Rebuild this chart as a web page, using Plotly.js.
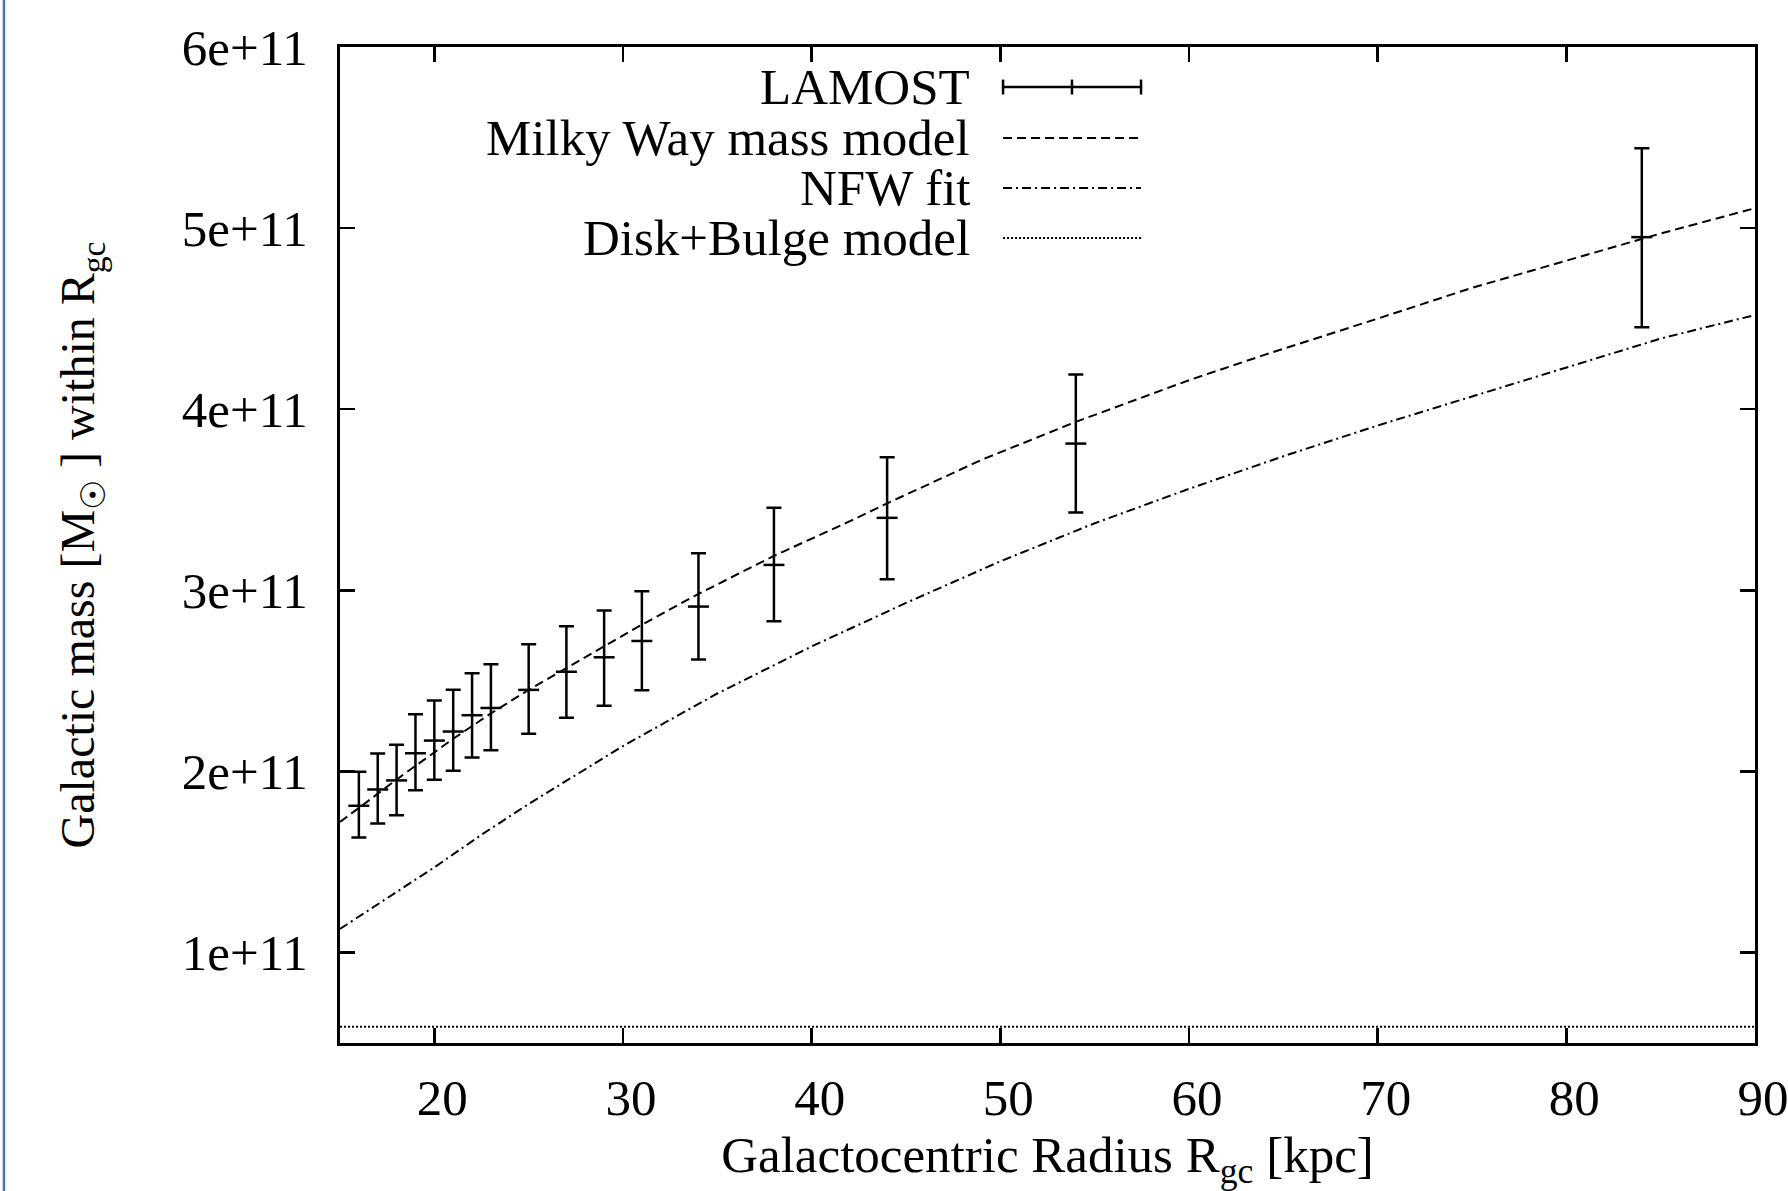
<!DOCTYPE html>
<html>
<head>
<meta charset="utf-8">
<script src="https://cdn.plot.ly/plotly-3.0.1.min.js"></script>
<style>html,body{margin:0;padding:0;background:#fff;}#chart{width:1788px;height:1191px;}</style>
</head>
<body>
<div id="chart"></div>
<script>
// LAMOST measurements
const radius = [16, 17, 18, 19, 20, 21, 22, 23, 25, 27, 29, 31, 34, 38, 44, 54, 84];
const massLamost = [1.81e11, 1.90e11, 1.95e11, 2.10e11, 2.17e11, 2.22e11, 2.31e11, 2.35e11, 2.45e11, 2.55e11, 2.63e11, 2.72e11, 2.91e11, 3.14e11, 3.40e11, 3.81e11, 4.95e11];
const errPlus = [0.188e11, 0.199e11, 0.197e11, 0.216e11, 0.221e11, 0.231e11, 0.232e11, 0.241e11, 0.252e11, 0.252e11, 0.258e11, 0.274e11, 0.295e11, 0.316e11, 0.335e11, 0.382e11, 0.491e11];
const errMinus = [0.175e11, 0.188e11, 0.193e11, 0.204e11, 0.217e11, 0.217e11, 0.234e11, 0.234e11, 0.242e11, 0.254e11, 0.267e11, 0.272e11, 0.292e11, 0.311e11, 0.339e11, 0.380e11, 0.498e11];

// Milky Way mass model (dashed)
const mwRadius = [15, 16, 17, 18, 19, 20, 21, 23, 25, 27, 29, 31, 34, 38, 42, 44, 49, 54, 60, 64, 70, 75, 80, 85, 90];
const mwMass = [1.72e11, 1.80e11, 1.875e11, 1.955e11, 2.03e11, 2.105e11, 2.18e11, 2.32e11, 2.45e11, 2.57e11, 2.69e11, 2.81e11, 2.98e11, 3.19e11, 3.38e11, 3.48e11, 3.72e11, 3.93e11, 4.16e11, 4.30e11, 4.50e11, 4.67e11, 4.82e11, 4.97e11, 5.11e11];

// NFW fit (dash-dot)
const nfwRadius = [15, 17.5, 20, 22.5, 25, 27.5, 30, 35, 40, 45, 50, 55, 60, 65, 70, 75, 80, 85, 90];
const nfwMass = [1.13e11, 1.30e11, 1.47e11, 1.65e11, 1.82e11, 1.98e11, 2.14e11, 2.43e11, 2.69e11, 2.93e11, 3.16e11, 3.37e11, 3.56e11, 3.74e11, 3.91e11, 4.07e11, 4.23e11, 4.39e11, 4.52e11];

// Disk+Bulge model (dotted)
const dbRadius = [15, 90];
const dbMass = [5.9e10, 5.9e10];

// Axis ticks
const xTickVals = [20, 30, 40, 50, 60, 70, 80, 90];
const xTickText = ['20', '30', '40', '50', '60', '70', '80', '90'];
const yTickVals = [1e11, 2e11, 3e11, 4e11, 5e11, 6e11];
const yTickText = ['1e+11', '2e+11', '3e+11', '4e+11', '5e+11', '6e+11'];

// Legend labels
const legendLabels = ['LAMOST', 'Milky Way mass model', 'NFW fit', 'Disk+Bulge model'];

const FONT = 'Liberation Serif, Times New Roman, serif';
const FS = 51;

const traces = [
  {
    x: mwRadius, y: mwMass, mode: 'lines', name: legendLabels[1],
    line: {color: '#000', width: 2, dash: '9px,5px'}, showlegend: false, hoverinfo: 'skip'
  },
  {
    x: nfwRadius, y: nfwMass, mode: 'lines', name: legendLabels[2],
    line: {color: '#000', width: 2, dash: '9px,4px,2px,4px'}, showlegend: false, hoverinfo: 'skip'
  },
  {
    x: dbRadius, y: dbMass, mode: 'lines', name: legendLabels[3],
    line: {color: '#000', width: 2, dash: '2px,2px'}, showlegend: false, hoverinfo: 'skip'
  },
  {
    x: radius, y: massLamost, mode: 'markers', name: legendLabels[0],
    marker: {symbol: 'line-ew', size: 15, color: '#000', line: {color: '#000', width: 2.5}},
    error_y: {type: 'data', symmetric: false, array: errPlus, arrayminus: errMinus,
              color: '#000', thickness: 2.5, width: 7.5},
    showlegend: false
  }
];

// legend drawn in the gnuplot style: right-aligned label, sample on the right
const legY = [0.9598, 0.9086, 0.8584, 0.8082];
const legTextX = 0.4466, legX0 = 0.4686, legX1 = 0.5661, legXm = 0.5173;
const annotations = legendLabels.map((t, i) => ({
  text: t, xref: 'paper', yref: 'paper', x: legTextX, y: legY[i],
  xanchor: 'right', yanchor: 'middle', showarrow: false,
  font: {family: FONT, size: FS, color: '#000'}
}));

const capH = 0.0075;
const shapes = [
  {type: 'line', xref: 'paper', yref: 'paper', x0: legX0, x1: legX1, y0: legY[0], y1: legY[0], line: {color: '#000', width: 2.5}},
  {type: 'line', xref: 'paper', yref: 'paper', x0: legX0, x1: legX0, y0: legY[0] - capH, y1: legY[0] + capH, line: {color: '#000', width: 2.5}},
  {type: 'line', xref: 'paper', yref: 'paper', x0: legX1, x1: legX1, y0: legY[0] - capH, y1: legY[0] + capH, line: {color: '#000', width: 2.5}},
  {type: 'line', xref: 'paper', yref: 'paper', x0: legXm, x1: legXm, y0: legY[0] - capH, y1: legY[0] + capH, line: {color: '#000', width: 2.5}},
  {type: 'line', xref: 'paper', yref: 'paper', x0: legX0, x1: legX1, y0: legY[1], y1: legY[1], line: {color: '#000', width: 2, dash: '9px,5px'}},
  {type: 'line', xref: 'paper', yref: 'paper', x0: legX0, x1: legX1, y0: legY[2], y1: legY[2], line: {color: '#000', width: 2, dash: '9px,4px,2px,4px'}},
  {type: 'line', xref: 'paper', yref: 'paper', x0: legX0, x1: legX1, y0: legY[3], y1: legY[3], line: {color: '#000', width: 2, dash: '2px,2px'}},
  // blue frame edge at the left of the picture
  {type: 'line', xref: 'paper', yref: 'paper', x0: -0.2375, x1: -0.2375, y0: -0.17, y1: 1.07, line: {color: '#4a74b5', width: 2.5}}
];

const axisCommon = {
  ticks: 'inside', ticklen: 15, tickwidth: 2.5, tickcolor: '#000',
  showline: true, linewidth: 3, linecolor: '#000', mirror: 'ticks',
  showgrid: false, zeroline: false,
  tickfont: {family: FONT, size: FS, color: '#000'}
};

const layout = {
  width: 1788, height: 1191,
  margin: {l: 340, r: 33, t: 47, b: 148},
  paper_bgcolor: '#fff', plot_bgcolor: '#fff',
  font: {family: FONT, size: FS, color: '#000'},
  showlegend: false,
  xaxis: Object.assign({}, axisCommon, {
    range: [15, 90], tickmode: 'array', tickvals: xTickVals, ticktext: xTickText,
    ticklabelstandoff: 8, ticklabelshift: 8, ticklabeloverflow: 'allow',
    title: {text: 'Galactocentric Radius R<sub>gc</sub> [kpc]', font: {family: FONT, size: FS, color: '#000'}, standoff: 26}
  }),
  yaxis: Object.assign({}, axisCommon, {
    range: [5e10, 6e11], tickmode: 'array', tickvals: yTickVals, ticktext: yTickText,
    ticklabelstandoff: 19,
    title: {text: 'Galactic mass [M<sub>☉</sub> ] within R<sub>gc</sub>', font: {family: FONT, size: 48, color: '#000'}, standoff: 72}
  }),
  annotations: annotations,
  shapes: shapes
};

Plotly.newPlot('chart', traces, layout, {displayModeBar: false, staticPlot: true});
</script>
</body>
</html>
